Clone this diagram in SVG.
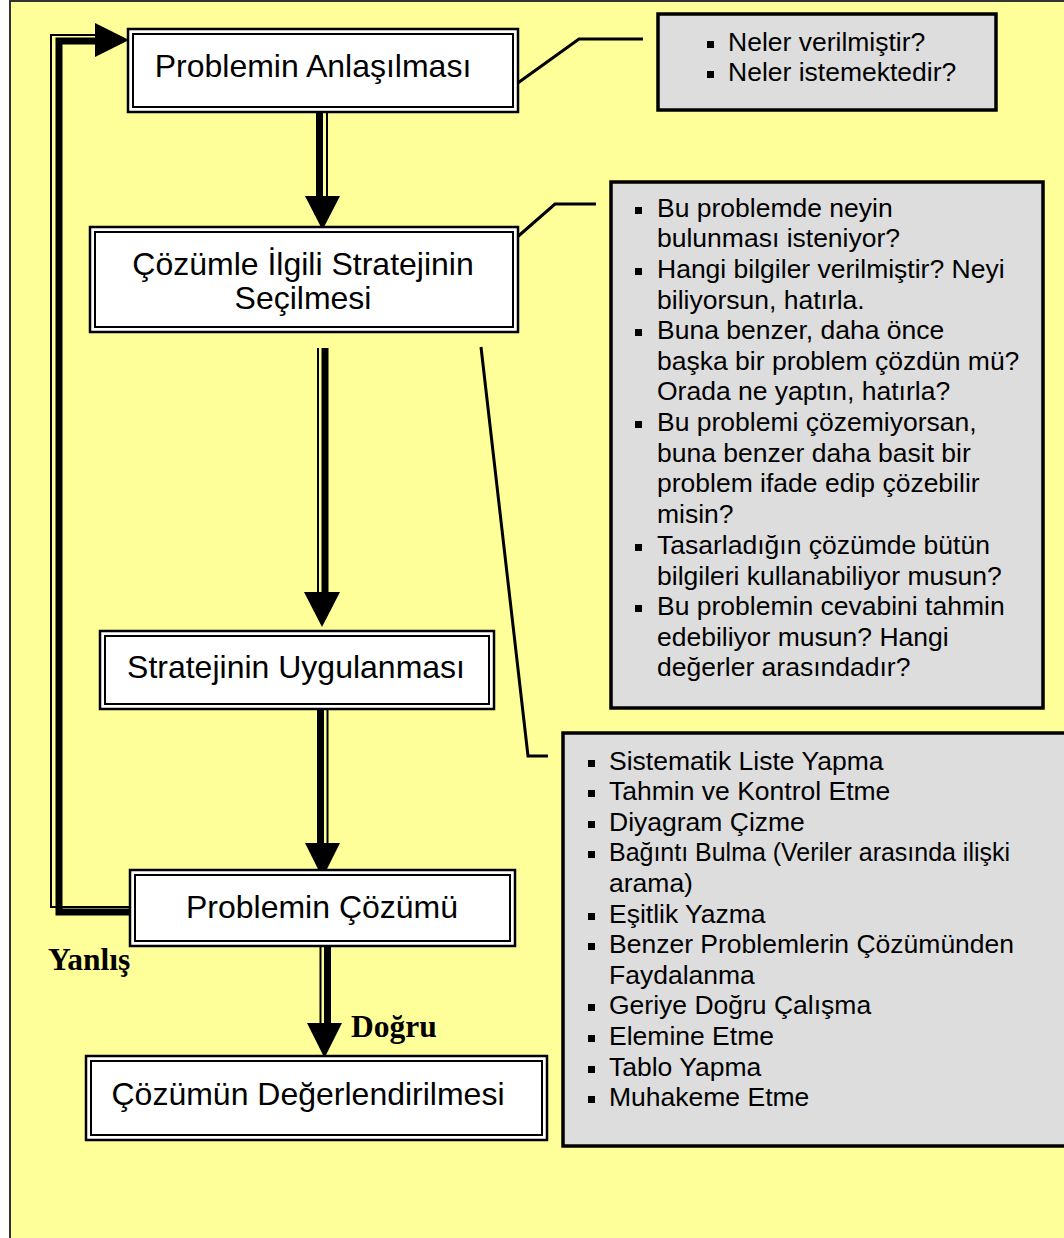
<svg xmlns="http://www.w3.org/2000/svg" width="1064" height="1238" viewBox="0 0 1064 1238">
  <style>
    .frame { fill: #ffff99; stroke: #333333; stroke-width: 2; }
    .outer { fill: #ffffff; stroke: #000000; stroke-width: 2.5; }
    .inner { fill: #ffffff; stroke: #000000; stroke-width: 2; }
    .title { font-family: "Liberation Sans", Arial, sans-serif; font-size: 32px; fill: #000000; text-anchor: middle; }
    .note { fill: #dddddd; stroke: #000000; stroke-width: 3.5; }
    .list { font-family: "Liberation Sans", Arial, sans-serif; font-size: 26.5px; fill: #000000; }
    .label { font-family: "Liberation Serif", "Times New Roman", serif; font-size: 31.5px; font-weight: bold; fill: #000000; }
    .thick { fill: none; stroke: #000000; stroke-width: 7; }
    .thin { fill: none; stroke: #000000; stroke-width: 2; }
    .callout { fill: none; stroke: #000000; stroke-width: 3; }
  </style>
  <defs>
    <rect id="bullet" x="0" y="-7" width="7" height="7" fill="#000000"/>
  </defs>

  <rect class="frame" x="10" y="1" width="1070" height="1260"/>

  <!-- flow connectors -->
  <g id="connectors">
    <!-- 1 -> 2 -->
    <line class="thick" x1="319.5" y1="112" x2="319.5" y2="200"/>
    <line class="thin" x1="327" y1="112" x2="327" y2="200"/>
    <polygon points="305,196 340,196 322.5,230" fill="#000"/>
    <!-- 2 -> 3 -->
    <line class="thin" x1="318" y1="348" x2="318" y2="596"/>
    <line class="thick" x1="325" y1="348" x2="325" y2="596"/>
    <polygon points="304,592 340,592 322,627" fill="#000"/>
    <!-- 3 -> 4 -->
    <line class="thick" x1="320.5" y1="706" x2="320.5" y2="846"/>
    <line class="thin" x1="327.5" y1="706" x2="327.5" y2="846"/>
    <polygon points="305,843 340,843 322.5,878" fill="#000"/>
    <!-- 4 -> 5 -->
    <line class="thin" x1="320.5" y1="945" x2="320.5" y2="1026"/>
    <line class="thick" x1="327.5" y1="945" x2="327.5" y2="1026"/>
    <polygon points="307,1023 342,1023 324.5,1058" fill="#000"/>
    <!-- loop back from solution to understanding -->
    <polyline class="thin" points="130,907 51,907 51,35 96,35"/>
    <polyline class="thick" points="130,912 59,912 59,41 100,41"/>
    <polygon points="95,23 129,40 95,57" fill="#000"/>
    <!-- note callouts -->
    <polyline class="callout" points="515,85 579,39 643,39"/>
    <polyline class="callout" points="515,239 555,204 596,204"/>
    <polyline class="callout" points="481,347 528,756 548,756"/>
  </g>

  <g id="labels">
    <text class="label" x="48" y="970">Yanlış</text>
    <text class="label" x="351" y="1037">Doğru</text>
  </g>

  <g id="step-anlasilma">
    <rect class="outer" x="128" y="29" width="390" height="83"/>
    <rect class="inner" x="133" y="34" width="380" height="73"/>
    <text class="title" x="313" y="77">Problemin Anlaşılması</text>
  </g>

  <g id="step-strateji-secimi">
    <rect class="outer" x="90" y="227" width="428" height="105"/>
    <rect class="inner" x="95" y="232" width="418" height="95"/>
    <text class="title" x="303" y="275">Çözümle İlgili Stratejinin</text>
    <text class="title" x="303" y="309">Seçilmesi</text>
  </g>

  <g id="step-uygulama">
    <rect class="outer" x="100" y="631" width="394" height="78"/>
    <rect class="inner" x="105" y="636" width="384" height="68"/>
    <text class="title" x="296" y="678">Stratejinin Uygulanması</text>
  </g>

  <g id="step-cozum">
    <rect class="outer" x="130" y="870" width="385" height="76"/>
    <rect class="inner" x="135" y="875" width="375" height="66"/>
    <text class="title" x="322" y="918">Problemin Çözümü</text>
  </g>

  <g id="step-degerlendirme">
    <rect class="outer" x="86" y="1056" width="461" height="84"/>
    <rect class="inner" x="91" y="1061" width="451" height="74"/>
    <text class="title" x="308" y="1105">Çözümün Değerlendirilmesi</text>
  </g>

  <g id="note-anlasilma">
    <rect class="note" x="658" y="14" width="338" height="96"/>
    <use href="#bullet" x="707" y="48"/>
    <text class="list" x="728" y="51">Neler verilmiştir?</text>
    <use href="#bullet" x="707" y="78"/>
    <text class="list" x="728" y="81">Neler istemektedir?</text>
  </g>

  <g id="note-sorular">
    <rect class="note" x="611" y="182" width="432" height="526"/>
    <g class="list">
      <use href="#bullet" x="635" y="214"/>
      <text x="657" y="217">Bu problemde neyin</text>
      <text x="657" y="247">bulunması isteniyor?</text>
      <use href="#bullet" x="635" y="275"/>
      <text x="657" y="278">Hangi bilgiler verilmiştir? Neyi</text>
      <text x="657" y="309">biliyorsun, hatırla.</text>
      <use href="#bullet" x="635" y="336"/>
      <text x="657" y="339">Buna benzer, daha önce</text>
      <text x="657" y="370">başka bir problem çözdün mü?</text>
      <text x="657" y="400">Orada ne yaptın, hatırla?</text>
      <use href="#bullet" x="635" y="428"/>
      <text x="657" y="431">Bu problemi çözemiyorsan,</text>
      <text x="657" y="462">buna benzer daha basit bir</text>
      <text x="657" y="492">problem ifade edip çözebilir</text>
      <text x="657" y="523">misin?</text>
      <use href="#bullet" x="635" y="551"/>
      <text x="657" y="554">Tasarladığın çözümde bütün</text>
      <text x="657" y="585">bilgileri kullanabiliyor musun?</text>
      <use href="#bullet" x="635" y="612"/>
      <text x="657" y="615">Bu problemin cevabini tahmin</text>
      <text x="657" y="646">edebiliyor musun? Hangi</text>
      <text x="657" y="676">değerler arasındadır?</text>
    </g>
  </g>

  <g id="note-stratejiler">
    <rect class="note" x="563" y="733" width="520" height="413"/>
    <g class="list">
      <use href="#bullet" x="588" y="767"/>
      <text x="609" y="770">Sistematik Liste Yapma</text>
      <use href="#bullet" x="588" y="797"/>
      <text x="609" y="800">Tahmin ve Kontrol Etme</text>
      <use href="#bullet" x="588" y="828"/>
      <text x="609" y="831">Diyagram Çizme</text>
      <use href="#bullet" x="588" y="858"/>
      <text x="609" y="861" textLength="401" lengthAdjust="spacingAndGlyphs">Bağıntı Bulma (Veriler arasında ilişki</text>
      <text x="609" y="892">arama)</text>
      <use href="#bullet" x="588" y="920"/>
      <text x="609" y="923">Eşitlik Yazma</text>
      <use href="#bullet" x="588" y="950"/>
      <text x="609" y="953">Benzer Problemlerin Çözümünden</text>
      <text x="609" y="984">Faydalanma</text>
      <use href="#bullet" x="588" y="1011"/>
      <text x="609" y="1014">Geriye Doğru Çalışma</text>
      <use href="#bullet" x="588" y="1042"/>
      <text x="609" y="1045">Elemine Etme</text>
      <use href="#bullet" x="588" y="1073"/>
      <text x="609" y="1076">Tablo Yapma</text>
      <use href="#bullet" x="588" y="1103"/>
      <text x="609" y="1106">Muhakeme Etme</text>
    </g>
  </g>
</svg>
